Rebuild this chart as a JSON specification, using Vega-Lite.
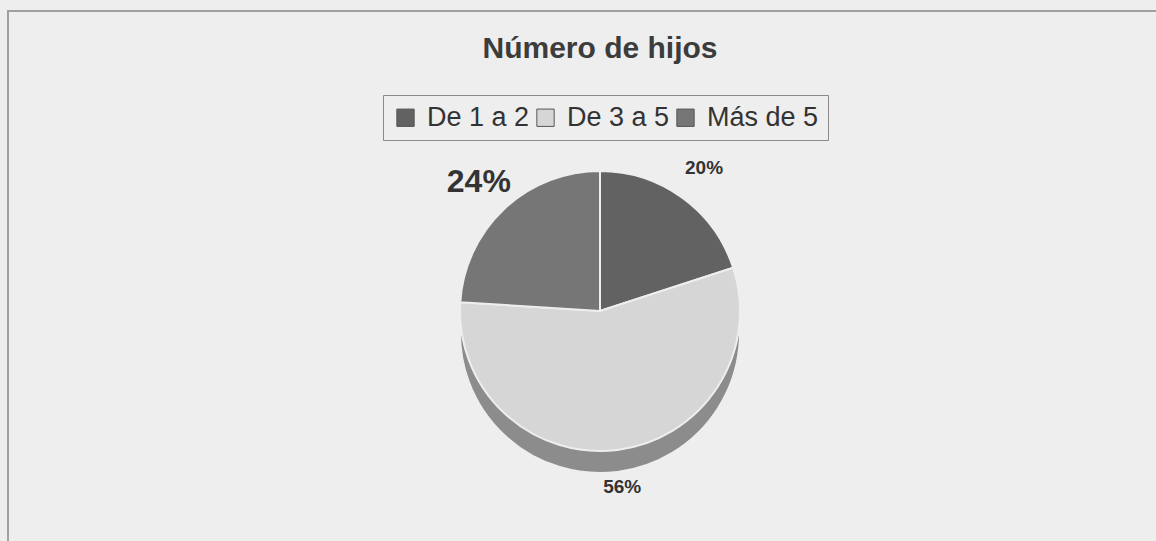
{
  "$schema": "https://vega.github.io/schema/vega-lite/v6.json",
  "width": 1184,
  "height": 600,
  "autosize": {"type": "none"},
  "padding": {"left": 8, "top": 11, "right": 0, "bottom": 0},
  "background": "#eeeeee",
  "view": {"stroke": "#a0a0a0", "strokeWidth": 2},
  "title": {
    "text": "Número de hijos",
    "anchor": "middle",
    "offset": -77,
    "baseline": "alphabetic",
    "font": "Liberation Sans",
    "fontSize": 30,
    "fontWeight": "bold",
    "color": "#3c3c3c"
  },
  "data": {
    "values": [
      {"categoria": "De 1 a 2", "valor": 20, "etiqueta": "20%"},
      {"categoria": "De 3 a 5", "valor": 56, "etiqueta": "56%"},
      {"categoria": "Más de 5", "valor": 24, "etiqueta": "24%"}
    ]
  },
  "encoding": {
    "theta": {"field": "valor", "type": "quantitative", "stack": true},
    "order": {"field": "categoria", "type": "ordinal", "sort": "ascending"}
  },
  "layer": [
    {
      "mark": {"type": "arc", "outerRadius": 140, "yOffset": 22, "stroke": "#eeeeee", "strokeWidth": 2},
      "encoding": {
        "color": {
          "field": "categoria",
          "type": "nominal",
          "scale": {"domain": ["De 1 a 2", "De 3 a 5", "Más de 5"], "range": ["#505050", "#8c8c8c", "#565656"]},
          "legend": null
        }
      }
    },
    {
      "mark": {"type": "arc", "outerRadius": 140, "stroke": "#eeeeee", "strokeWidth": 2},
      "encoding": {
        "color": {
          "field": "categoria",
          "type": "nominal",
          "scale": {"domain": ["De 1 a 2", "De 3 a 5", "Más de 5"], "range": ["#626262", "#d6d6d6", "#767676"]},
          "legend": {
            "title": null,
            "orient": "none",
            "legendX": 375,
            "legendY": 84,
            "direction": "horizontal",
            "symbolType": "square",
            "symbolSize": 300,
            "symbolStrokeColor": "#555555",
            "symbolStrokeWidth": 1,
            "symbolOpacity": 1,
            "labelFont": "Liberation Sans",
            "labelFontSize": 27,
            "labelColor": "#333333",
            "labelOffset": 8,
            "columnPadding": 2,
            "padding": 9,
            "strokeColor": "#8a8a8a",
            "fillColor": "#eeeeee"
          }
        }
      }
    },
    {
      "mark": {"type": "text", "radius": 177, "font": "Liberation Sans", "fontWeight": "bold", "color": "#333333"},
      "encoding": {
        "text": {"field": "etiqueta", "type": "nominal"},
        "size": {
          "condition": {"test": "datum.categoria === 'Más de 5'", "value": 32},
          "value": 19
        }
      }
    }
  ],
  "resolve": {"scale": {"color": "independent"}}
}
